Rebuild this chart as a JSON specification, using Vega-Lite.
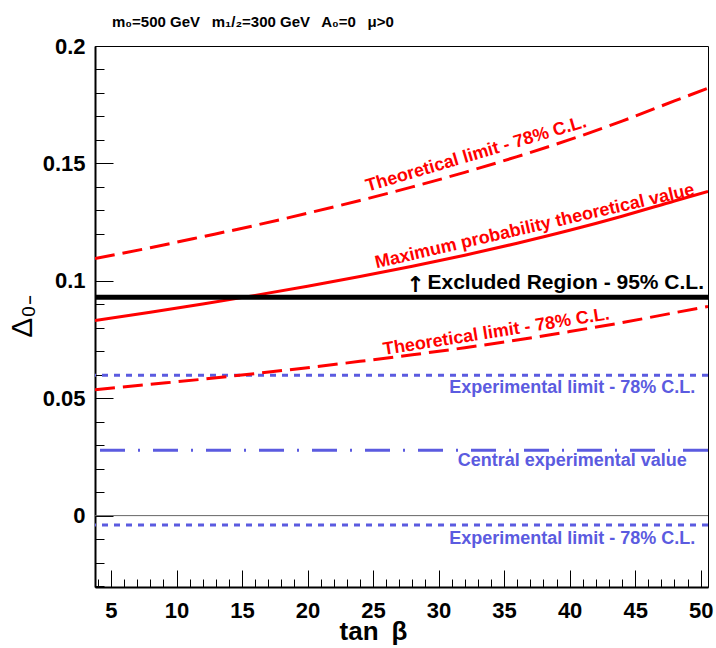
{
  "$schema": "https://vega.github.io/schema/vega-lite/v6.json",
  "width": 613,
  "height": 541,
  "autosize": {"type": "none"},
  "padding": {"left": 95, "top": 46, "right": 8, "bottom": 61},
  "background": "white",
  "config": {
    "view": {"stroke": "black", "strokeWidth": 1},
    "font": "Liberation Sans"
  },
  "title": {
    "text": "m₀=500 GeV\u2002 m₁/₂=300 GeV\u2002 A₀=0\u2002 μ>0",
    "anchor": "start",
    "frame": "group",
    "dx": 17,
    "dy": 7,
    "offset": 0,
    "baseline": "alphabetic",
    "font": "Liberation Sans",
    "fontSize": 15,
    "fontWeight": "bold",
    "color": "black"
  },
  "datasets": {
    "maxprob": [
      {"tanb": 3.78, "delta": 0.0831}, {"tanb": 8, "delta": 0.0866}, {"tanb": 12, "delta": 0.0901},
      {"tanb": 16, "delta": 0.0938}, {"tanb": 20, "delta": 0.0977}, {"tanb": 24, "delta": 0.1018},
      {"tanb": 28, "delta": 0.1062}, {"tanb": 32, "delta": 0.1109}, {"tanb": 36, "delta": 0.116},
      {"tanb": 40, "delta": 0.1215}, {"tanb": 44, "delta": 0.1275}, {"tanb": 48, "delta": 0.134},
      {"tanb": 50.56, "delta": 0.1381}
    ],
    "theoUpper": [
      {"tanb": 3.78, "delta": 0.1095}, {"tanb": 8, "delta": 0.1141}, {"tanb": 12, "delta": 0.1188},
      {"tanb": 16, "delta": 0.1236}, {"tanb": 20, "delta": 0.1288}, {"tanb": 24, "delta": 0.1342},
      {"tanb": 28, "delta": 0.14}, {"tanb": 32, "delta": 0.1462}, {"tanb": 36, "delta": 0.1529},
      {"tanb": 40, "delta": 0.1601}, {"tanb": 44, "delta": 0.168}, {"tanb": 48, "delta": 0.1766},
      {"tanb": 50.56, "delta": 0.182}
    ],
    "theoLower": [
      {"tanb": 3.78, "delta": 0.0536}, {"tanb": 8, "delta": 0.0559}, {"tanb": 12, "delta": 0.0581},
      {"tanb": 16, "delta": 0.0605}, {"tanb": 20, "delta": 0.063}, {"tanb": 24, "delta": 0.0657},
      {"tanb": 28, "delta": 0.0685}, {"tanb": 32, "delta": 0.0715}, {"tanb": 36, "delta": 0.0748},
      {"tanb": 40, "delta": 0.0784}, {"tanb": 44, "delta": 0.0822}, {"tanb": 48, "delta": 0.0864},
      {"tanb": 50.56, "delta": 0.0891}
    ]
  },
  "layer": [
    {
      "data": {"values": [{"delta": 0}]},
      "mark": {"type": "rule", "color": "#666666", "strokeWidth": 1},
      "encoding": {"y": {"field": "delta", "type": "quantitative", "axis": null,
        "scale": {"domain": [-0.0304, 0.2], "nice": false, "zero": false}}}
    },
    {
      "data": {"values": [{"delta": 0.0598}]},
      "mark": {"type": "rule", "color": "#5b5be0", "strokeWidth": 3, "strokeDash": [6, 6]},
      "encoding": {"y": {"field": "delta", "type": "quantitative", "axis": null}}
    },
    {
      "data": {"values": [{"delta": -0.004}]},
      "mark": {"type": "rule", "color": "#5b5be0", "strokeWidth": 3, "strokeDash": [6, 6]},
      "encoding": {"y": {"field": "delta", "type": "quantitative", "axis": null}}
    },
    {
      "data": {"values": [{"delta": 0.0278}]},
      "mark": {"type": "rule", "color": "#5b5be0", "strokeWidth": 3, "strokeDash": [25, 13, 2, 13]},
      "encoding": {"y": {"field": "delta", "type": "quantitative", "axis": null}}
    },
    {
      "data": {"name": "maxprob"},
      "mark": {"type": "line", "color": "#ff0000", "strokeWidth": 3, "interpolate": "monotone", "clip": true},
      "encoding": {
        "x": {"field": "tanb", "type": "quantitative",
          "scale": {"domain": [3.78, 50.56], "nice": false, "zero": false},
          "axis": {
            "orient": "bottom",
            "values": [5, 10, 15, 20, 25, 30, 35, 40, 45, 50],
            "tickSize": -17, "tickColor": "black", "tickWidth": 1,
            "labelPadding": 30, "labelFontSize": 22, "labelFontWeight": "bold", "labelColor": "black",
            "labelFlush": false, "labelOverlap": false, "labelBound": false,
            "domainColor": "black", "domainWidth": 2, "grid": false,
            "title": "tan\u2002β", "titleFontSize": 26, "titleFontWeight": "bold", "titleColor": "black",
            "titleX": 278, "titleY": 52, "titleBaseline": "alphabetic", "titleAlign": "center"
          }},
        "y": {"field": "delta", "type": "quantitative",
          "axis": {
            "orient": "left",
            "values": [0, 0.05, 0.1, 0.15, 0.2],
            "format": "~g",
            "tickSize": -18, "tickColor": "black", "tickWidth": 1,
            "labelPadding": 28, "labelFontSize": 22, "labelFontWeight": "bold", "labelColor": "black",
            "labelFlush": false, "labelOverlap": false, "labelBound": false,
            "domainColor": "black", "domainWidth": 2, "grid": false,
            "title": "Δ₀₋", "titleFontSize": 30, "titleFontWeight": "normal", "titleColor": "black",
            "titleAngle": 270, "titleX": -64, "titleY": 270, "titleBaseline": "alphabetic", "titleAlign": "center"
          }}
      }
    },
    {
      "data": {"name": "theoUpper"},
      "mark": {"type": "line", "color": "#ff0000", "strokeWidth": 3, "strokeDash": [20, 8], "interpolate": "monotone", "clip": true},
      "encoding": {
        "x": {"field": "tanb", "type": "quantitative",
          "axis": {
            "orient": "bottom",
            "values": [4, 6, 7, 8, 9, 11, 12, 13, 14, 16, 17, 18, 19, 21, 22, 23, 24, 26, 27, 28, 29, 31, 32, 33, 34, 36, 37, 38, 39, 41, 42, 43, 44, 46, 47, 48, 49],
            "tickSize": -8, "tickColor": "black", "tickWidth": 1,
            "labels": false, "domain": false, "grid": false, "title": null
          }},
        "y": {"field": "delta", "type": "quantitative",
          "axis": {
            "orient": "left",
            "values": [-0.03, -0.02, -0.01, 0.01, 0.02, 0.03, 0.04, 0.06, 0.07, 0.08, 0.09, 0.11, 0.12, 0.13, 0.14, 0.16, 0.17, 0.18, 0.19],
            "tickSize": -9, "tickColor": "black", "tickWidth": 1,
            "labels": false, "domain": false, "grid": false, "title": null
          }}
      }
    },
    {
      "data": {"name": "theoLower"},
      "mark": {"type": "line", "color": "#ff0000", "strokeWidth": 3, "strokeDash": [20, 8], "interpolate": "monotone", "clip": true},
      "encoding": {
        "x": {"field": "tanb", "type": "quantitative", "axis": null},
        "y": {"field": "delta", "type": "quantitative", "axis": null}
      }
    },
    {
      "data": {"values": [{"delta": 0.093}]},
      "mark": {"type": "rule", "color": "black", "strokeWidth": 5},
      "encoding": {"y": {"field": "delta", "type": "quantitative", "axis": null}}
    },
    {
      "data": {"values": [{"tanb": 32.98, "delta": 0.1518, "label": "Theoretical limit - 78% C.L."}]},
      "mark": {"type": "text", "color": "#ff0000", "fontSize": 18, "fontWeight": "bold", "angle": 343.5, "align": "center", "baseline": "alphabetic"},
      "encoding": {
        "x": {"field": "tanb", "type": "quantitative", "axis": null},
        "y": {"field": "delta", "type": "quantitative", "axis": null},
        "text": {"field": "label"}
      }
    },
    {
      "data": {"values": [{"tanb": 37.43, "delta": 0.121, "label": "Maximum probability theoretical value"}]},
      "mark": {"type": "text", "color": "#ff0000", "fontSize": 18, "fontWeight": "bold", "angle": 347, "align": "center", "baseline": "alphabetic"},
      "encoding": {
        "x": {"field": "tanb", "type": "quantitative", "axis": null},
        "y": {"field": "delta", "type": "quantitative", "axis": null},
        "text": {"field": "label"}
      }
    },
    {
      "data": {"values": [{"tanb": 34.47, "delta": 0.076, "label": "Theoretical limit - 78% C.L."}]},
      "mark": {"type": "text", "color": "#ff0000", "fontSize": 18, "fontWeight": "bold", "angle": 351, "align": "center", "baseline": "alphabetic"},
      "encoding": {
        "x": {"field": "tanb", "type": "quantitative", "axis": null},
        "y": {"field": "delta", "type": "quantitative", "axis": null},
        "text": {"field": "label"}
      }
    },
    {
      "data": {"values": [{"tanb": 29.15, "delta": 0.0963, "label": "Excluded Region - 95% C.L."}]},
      "mark": {"type": "text", "color": "black", "fontSize": 21, "fontWeight": "bold", "align": "left", "baseline": "alphabetic"},
      "encoding": {
        "x": {"field": "tanb", "type": "quantitative", "axis": null},
        "y": {"field": "delta", "type": "quantitative", "axis": null},
        "text": {"field": "label"}
      }
    },
    {
      "data": {"values": [{"tanb": 28.24, "delta": 0.0953, "label": "↑"}]},
      "mark": {"type": "text", "color": "black", "font": "DejaVu Sans", "fontSize": 22, "fontWeight": "bold", "align": "center", "baseline": "alphabetic"},
      "encoding": {
        "x": {"field": "tanb", "type": "quantitative", "axis": null},
        "y": {"field": "delta", "type": "quantitative", "axis": null},
        "text": {"field": "label"}
      }
    },
    {
      "data": {"values": [
        {"tanb": 40.2, "delta": 0.0522, "label": "Experimental limit - 78% C.L."},
        {"tanb": 40.2, "delta": 0.021, "label": "Central experimental value"},
        {"tanb": 40.2, "delta": -0.0119, "label": "Experimental limit - 78% C.L."}
      ]},
      "mark": {"type": "text", "color": "#5b5be0", "fontSize": 18, "fontWeight": "bold", "align": "center", "baseline": "alphabetic"},
      "encoding": {
        "x": {"field": "tanb", "type": "quantitative", "axis": null},
        "y": {"field": "delta", "type": "quantitative", "axis": null},
        "text": {"field": "label"}
      }
    }
  ],
  "resolve": {"axis": {"x": "independent", "y": "independent"}}
}
